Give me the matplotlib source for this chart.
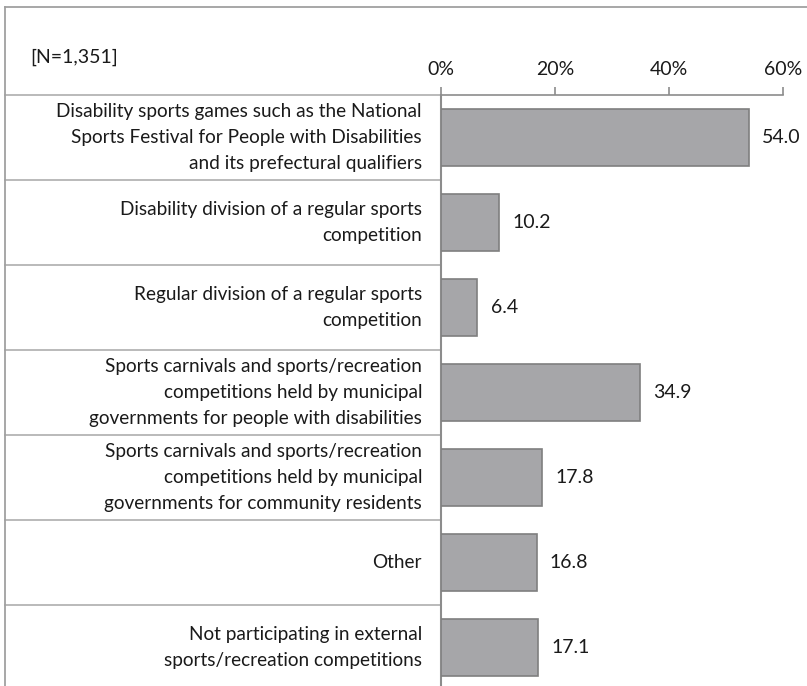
import matplotlib
matplotlib.use("Agg")
import matplotlib.pyplot as plt
from matplotlib.transforms import blended_transform_factory

categories = [
    "Disability sports games such as the National\nSports Festival for People with Disabilities\nand its prefectural qualifiers",
    "Disability division of a regular sports\ncompetition",
    "Regular division of a regular sports\ncompetition",
    "Sports carnivals and sports/recreation\ncompetitions held by municipal\ngovernments for people with disabilities",
    "Sports carnivals and sports/recreation\ncompetitions held by municipal\ngovernments for community residents",
    "Other",
    "Not participating in external\nsports/recreation competitions",
]
values = [54.0, 10.2, 6.4, 34.9, 17.8, 16.8, 17.1]
xticks = [0, 20, 40, 60]
xticklabels = ["0%", "20%", "40%", "60%"]
note = "[N=1,351]"

W, H = 807, 686
plt.rcParams['font.family'] = ['Lato', 'DejaVu Sans']
fig = plt.figure(figsize=(W / 100, H / 100), dpi=100)

x0, x1 = 441, 783
ytop, ybot = 95, 690
ax = fig.add_axes([x0 / W, 1 - ybot / H, (x1 - x0) / W, (ybot - ytop) / H])
n = len(categories)
pos = list(range(n))
ax.barh(pos, values, height=0.67, color="#a6a6a9", edgecolor="#7f7f7f", linewidth=1.2, zorder=3)
ax.set_ylim(n - 0.5, -0.5)
ax.set_xlim(0, 60)
ax.xaxis.tick_top()
ax.set_xticks(xticks)
ax.set_xticklabels(xticklabels, fontsize=14, color="#1a1a1a")
ax.tick_params(axis="x", direction="out", length=6, width=1.2, color="#8c8c8c", pad=6)
ax.set_yticks([])
for s in ["right", "bottom"]:
    ax.spines[s].set_visible(False)
ax.spines["top"].set_color("#8c8c8c")
ax.spines["top"].set_linewidth(1.2)
ax.spines["left"].set_color("#8c8c8c")
ax.spines["left"].set_linewidth(1.5)

for p, v in zip(pos, values):
    ax.annotate(f"{v:.1f}", xy=(v, p), xytext=(9.5, 0), textcoords="offset points",
                ha="left", va="center", fontsize=14, color="#1a1a1a")

tr = blended_transform_factory(fig.transFigure, ax.transData)
for p in pos:
    ax.text(422 / W, p, categories[p], transform=tr, ha="right", va="center",
            fontsize=13.7, color="#1a1a1a", linespacing=1.65)
for b in [p - 0.5 for p in pos] + [n - 0.5]:
    ax.plot([5 / W, x0 / W], [b, b], transform=tr, color="#b4b4b4", lw=1.3, clip_on=False, zorder=1)

# outer frame
fig.add_artist(plt.Line2D([5 / W, 1], [1 - 7 / H, 1 - 7 / H], color="#a0a0a0", lw=1.3))
fig.add_artist(plt.Line2D([5 / W, 5 / W], [0, 1 - 7 / H], color="#a0a0a0", lw=1.3))

fig.text(30 / W, 1 - 57 / H, note, ha="left", va="center", fontsize=14, color="#1a1a1a")

fig.savefig("out.png", dpi=100)
